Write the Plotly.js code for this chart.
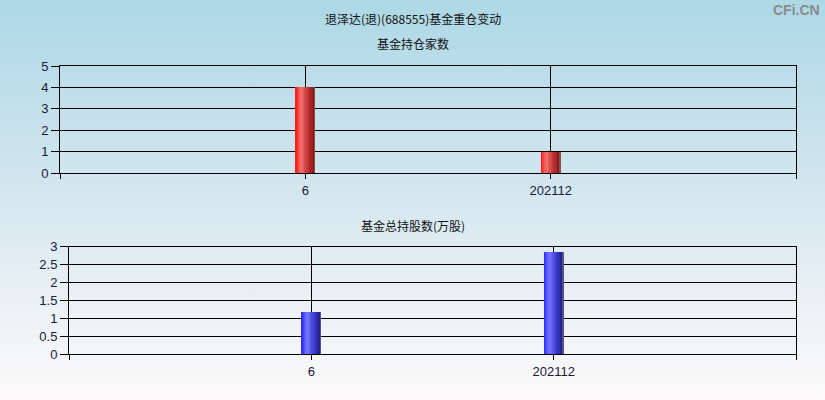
<!DOCTYPE html>
<html>
<head>
<meta charset="utf-8">
<script src="https://cdn.plot.ly/plotly-3.0.1.min.js"></script>
<style>
  html, body { margin: 0; padding: 0; }
  body { background: linear-gradient(to bottom, #add8e6 0%, #d6e7ef 50%, #fdfafa 100%); width: 825px; height: 400px; }
  #chart { width: 825px; height: 400px; }
</style>
</head>
<body>
<div id="chart"></div>
<script>
// data
var periods = ["6", "202112"];
var fundCount = [4, 1];          // 基金持仓家数
var fundShares = [1.18, 2.86];   // 基金总持股数(万股)

var mainTitle = "退泽达(退)(688555)基金重仓变动";
var topTitle = "基金持仓家数";
var bottomTitle = "基金总持股数(万股)";

// horizontal colour stops to fake the cylinder shading of the bars
var redStops = [[0, [255, 20, 20]], [0.3, [242, 115, 115]], [0.55, [205, 60, 60]], [0.92, [140, 22, 22]], [1, [120, 120, 120]]];
var blueStops = [[0, [40, 40, 255]], [0.3, [120, 120, 255]], [0.55, [70, 70, 220]], [0.92, [30, 30, 140]], [1, [120, 120, 120]]];

function pick(stops, t) {
  for (var i = 1; i < stops.length; i++) {
    if (t <= stops[i][0]) {
      var a = stops[i - 1], b = stops[i];
      var f = (t - a[0]) / (b[0] - a[0]);
      var c = a[1].map(function (v, k) { return Math.round(v + (b[1][k] - v) * f); });
      return "rgb(" + c.join(",") + ")";
    }
  }
  var l = stops[stops.length - 1][1];
  return "rgb(" + l.join(",") + ")";
}

var idx = periods.map(function (p, i) { return i; });
var barW = 0.082, slices = 16;

// each slice runs to the right edge, later slices paint over earlier ones -> no seams
function slicedBars(values, stops, xa, ya) {
  var out = [];
  for (var s = 0; s < slices; s++) {
    out.push({
      type: "bar",
      x: idx,
      y: values,
      xaxis: xa,
      yaxis: ya,
      width: barW - s * barW / slices,
      offset: -barW / 2 + s * barW / slices,
      marker: { color: pick(stops, (s + 0.5) / slices), line: { width: 0 } },
      hoverinfo: "skip",
      showlegend: false
    });
  }
  return out;
}

var data = slicedBars(fundCount, redStops, "x", "y")
  .concat(slicedBars(fundShares, blueStops, "x2", "y2"));

var tickFont = { family: "Liberation Sans, Arial, sans-serif", size: 13, color: "#1a1a3a" };
var titleFont = { family: "Noto Sans CJK SC, sans-serif", size: 12, color: "#111" };

function xAxis(domain, anchor) {
  return {
    domain: domain,
    anchor: anchor,
    range: [-1, 2],
    tickmode: "array",
    tickvals: [-1].concat(idx).concat([2]),
    ticktext: [""].concat(periods).concat([""]),
    ticks: "outside",
    ticklen: 5,
    tickcolor: "#000",
    showgrid: true,
    gridcolor: "#000",
    gridwidth: 1,
    showline: true,
    linecolor: "#000",
    linewidth: 1,
    mirror: true,
    zeroline: false,
    tickfont: tickFont,
    fixedrange: true
  };
}

function yAxis(domain, anchor, top, step) {
  return {
    domain: domain,
    anchor: anchor,
    range: [0, top],
    dtick: step,
    ticks: "outside",
    ticklen: 8,
    tickcolor: "#000",
    showgrid: true,
    gridcolor: "#000",
    gridwidth: 1,
    showline: true,
    linecolor: "#000",
    linewidth: 1,
    mirror: true,
    zeroline: false,
    tickfont: tickFont,
    fixedrange: true
  };
}

var layout = {
  width: 825,
  height: 400,
  margin: { l: 0, r: 0, t: 0, b: 0 },
  paper_bgcolor: "rgba(0,0,0,0)",
  plot_bgcolor: "rgba(0,0,0,0)",
  barmode: "overlay",
  bargap: 0,
  xaxis: xAxis([60 / 825, 796 / 825], "y"),
  yaxis: yAxis([1 - 173 / 400, 1 - 66 / 400], "x", 5, 1),
  xaxis2: xAxis([69 / 825, 796 / 825], "y2"),
  yaxis2: yAxis([1 - 354 / 400, 1 - 246.5 / 400], "x2", 3, 0.5),
  annotations: [
    { text: mainTitle, xref: "paper", yref: "paper", x: 0.5, y: 1 - 18 / 400, showarrow: false, font: titleFont, xanchor: "center", yanchor: "middle" },
    { text: topTitle, xref: "paper", yref: "paper", x: 0.5, y: 1 - 43 / 400, showarrow: false, font: titleFont, xanchor: "center", yanchor: "middle" },
    { text: bottomTitle, xref: "paper", yref: "paper", x: 0.5, y: 1 - 225 / 400, showarrow: false, font: titleFont, xanchor: "center", yanchor: "middle" },
    { text: "<b>CFi.CN</b>", xref: "paper", yref: "paper", x: 822 / 825, y: 1 - 10 / 400, showarrow: false, xanchor: "right", yanchor: "middle",
      font: { family: "Liberation Sans, Arial, sans-serif", size: 14, color: "#8a8a8a" } }
  ]
};

Plotly.newPlot("chart", data, layout, { displayModeBar: false, staticPlot: true });
</script>
</body>
</html>
